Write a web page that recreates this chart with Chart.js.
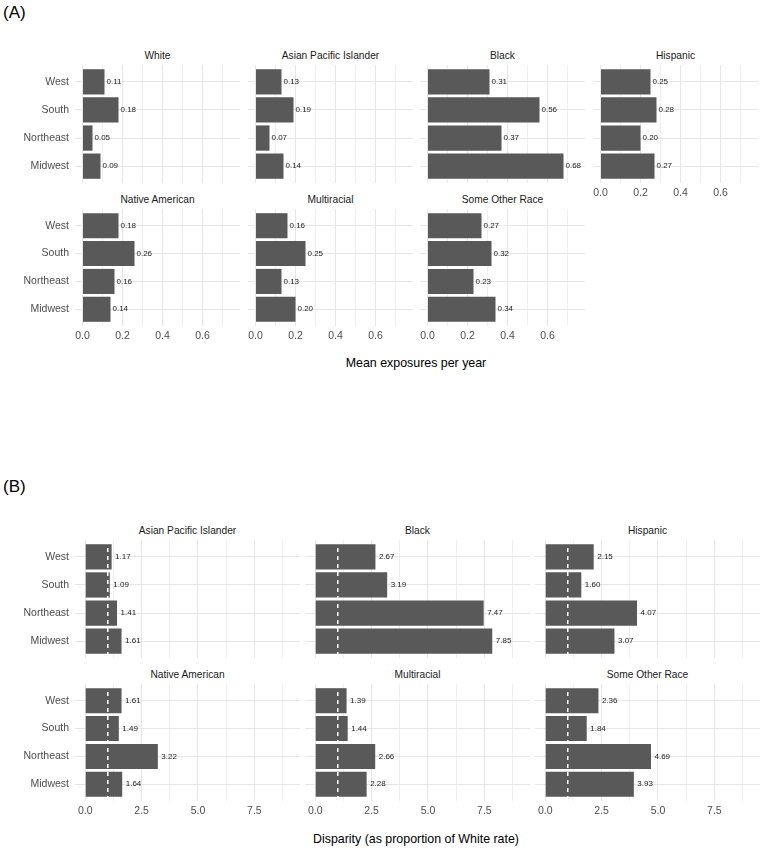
<!DOCTYPE html>
<html>
<head>
<meta charset="utf-8">
<script src="https://cdn.jsdelivr.net/npm/chart.js@4"></script>
<style>
  body { margin: 0; background: #fff; }
  #page { position: relative; width: 762px; height: 849px; background: #fff; font-family: "Liberation Sans", Arial, sans-serif; }
  #page canvas { position: absolute; }
  .txt { position: absolute; white-space: nowrap; transform: translate(-50%, -50%); color: #1a1a1a; }
  .panel { position: absolute; font-size: 17px; color: #000; }
  .strip { font-size: 10.2px; }
  .axis-title { font-size: 12.4px; color: #000; }
</style>
</head>
<body>
<div id="page"></div>
<script>
// regions, top to bottom in every facet
const regions = ['West', 'South', 'Northeast', 'Midwest'];

// (A) mean exposures per year
const exposureGroups = ['White', 'Asian Pacific Islander', 'Black', 'Hispanic', 'Native American', 'Multiracial', 'Some Other Race'];
const exposureWhite = [0.11, 0.18, 0.05, 0.09];
const exposureAsian = [0.13, 0.19, 0.07, 0.14];
const exposureBlack = [0.31, 0.56, 0.37, 0.68];
const exposureHispanic = [0.25, 0.28, 0.20, 0.27];
const exposureNative = [0.18, 0.26, 0.16, 0.14];
const exposureMulti = [0.16, 0.25, 0.13, 0.20];
const exposureOther = [0.27, 0.32, 0.23, 0.34];
const exposureTicks = [0, 0.2, 0.4, 0.6];
const exposureMinorTicks = [0.1, 0.3, 0.5, 0.7];

// (B) disparity as proportion of White rate
const disparityGroups = ['Asian Pacific Islander', 'Black', 'Hispanic', 'Native American', 'Multiracial', 'Some Other Race'];
const disparityAsian = [1.17, 1.09, 1.41, 1.61];
const disparityBlack = [2.67, 3.19, 7.47, 7.85];
const disparityHispanic = [2.15, 1.60, 4.07, 3.07];
const disparityNative = [1.61, 1.49, 3.22, 1.64];
const disparityMulti = [1.39, 1.44, 2.66, 2.28];
const disparityOther = [2.36, 1.84, 4.69, 3.93];
const disparityTicks = [0, 2.5, 5, 7.5];
const disparityMinorTicks = [1.25, 3.75, 6.25, 8.75];
const whiteRate = 1;

const page = document.getElementById('page');
const FONT = '"Liberation Sans", Arial, sans-serif';

function addText(text, x, y, cls) {
  const d = document.createElement('div');
  d.className = 'txt ' + cls;
  d.textContent = text;
  d.style.left = x + 'px';
  d.style.top = y + 'px';
  page.appendChild(d);
}

function facet(f) {
  const yw = f.showY ? 75 : 0;
  const xh = f.showX ? 20 : 0;
  const canvas = document.createElement('canvas');
  canvas.width = yw + f.width;
  canvas.height = f.height + xh;
  canvas.style.left = (f.left - yw) + 'px';
  canvas.style.top = f.top + 'px';
  page.appendChild(canvas);

  addText(f.title, f.left + f.width / 2, f.top - 10, 'strip');

  const allTicks = f.major.concat(f.minor).sort((a, b) => a - b);

  const labelPlugin = {
    id: 'facetMarks',
    afterDatasetsDraw(chart) {
      const ctx = chart.ctx;
      const area = chart.chartArea;
      ctx.save();
      if (f.refLine !== undefined) {
        const px = chart.scales.x.getPixelForValue(f.refLine);
        ctx.strokeStyle = '#ffffff';
        ctx.lineWidth = 1.5;
        ctx.setLineDash([4, 4]);
        ctx.beginPath();
        ctx.moveTo(px, area.top);
        ctx.lineTo(px, area.bottom);
        ctx.stroke();
        ctx.setLineDash([]);
      }
      ctx.fillStyle = '#1a1a1a';
      ctx.font = '8px ' + FONT;
      ctx.textAlign = 'left';
      ctx.textBaseline = 'middle';
      chart.getDatasetMeta(0).data.forEach((bar, i) => {
        ctx.fillText(f.values[i].toFixed(2), bar.x + f.gap, bar.y);
      });
      ctx.restore();
    }
  };

  new Chart(canvas, {
    type: 'bar',
    data: {
      datasets: [{
        data: f.values.map((v, i) => ({ x: v, y: i })),
        backgroundColor: '#595959',
        borderWidth: 0,
        barPercentage: 0.9,
        categoryPercentage: 1
      }]
    },
    options: {
      indexAxis: 'y',
      responsive: false,
      animation: false,
      devicePixelRatio: 1,
      layout: { padding: 0 },
      plugins: { legend: { display: false }, tooltip: { enabled: false } },
      scales: {
        x: {
          type: 'linear',
          min: f.xMin,
          max: f.xMax,
          border: { display: false },
          grid: {
            drawTicks: false,
            lineWidth: 1,
            color: ctx => (ctx.tick && f.major.includes(ctx.tick.value)) ? '#e6e6e6' : '#efefef'
          },
          ticks: {
            display: f.showX,
            padding: 4,
            color: '#4d4d4d',
            font: { family: FONT, size: 10.5 },
            autoSkip: false,
            maxRotation: 0,
            callback: v => f.major.includes(v) ? v.toFixed(1) : ''
          },
          afterBuildTicks: s => { s.ticks = allTicks.map(v => ({ value: v })); },
          afterFit: s => { s.height = xh; s.paddingLeft = 0; s.paddingRight = 0; }
        },
        y: {
          type: 'linear',
          reverse: true,
          offset: false,
          min: -0.6,
          max: 3.6,
          border: { display: false },
          grid: { drawTicks: false, offset: false, lineWidth: 1, color: '#e6e6e6' },
          ticks: {
            display: f.showY,
            padding: 6,
            color: '#4d4d4d',
            font: { family: FONT, size: 10.5 },
            autoSkip: false,
            callback: v => regions[v]
          },
          afterBuildTicks: s => { s.ticks = regions.map((_, i) => ({ value: i })); },
          afterFit: s => { s.width = yw; s.paddingTop = 0; s.paddingBottom = 0; }
        }
      }
    },
    plugins: [labelPlugin]
  });
}

// ---- panel A ----
const exposureSeries = [exposureWhite, exposureAsian, exposureBlack, exposureHispanic, exposureNative, exposureMulti, exposureOther];
const aLefts = [75, 248, 420, 593];
const aTops = [65, 209];
const aHeights = [118, 117];
exposureSeries.forEach((vals, k) => {
  const col = k % 4, row = Math.floor(k / 4);
  facet({
    title: exposureGroups[k], values: vals,
    left: aLefts[col], top: aTops[row], width: 165, height: aHeights[row],
    showY: col === 0, showX: row === 1 || k === 3,
    xMin: -0.0375, xMax: 0.7875,
    major: exposureTicks, minor: exposureMinorTicks, gap: 2
  });
});

// ---- panel B ----
const disparitySeries = [disparityAsian, disparityBlack, disparityHispanic, disparityNative, disparityMulti, disparityOther];
const bLefts = [75, 305, 535];
const bTops = [540, 684];
const bHeights = [118, 117];
disparitySeries.forEach((vals, k) => {
  const col = k % 3, row = Math.floor(k / 3);
  facet({
    title: disparityGroups[k], values: vals,
    left: bLefts[col], top: bTops[row], width: 225, height: bHeights[row],
    showY: col === 0, showX: row === 1,
    xMin: -0.4535, xMax: 9.5235,
    major: disparityTicks, minor: disparityMinorTicks, gap: 3.5,
    refLine: whiteRate
  });
});

// panel labels and axis titles
const la = document.createElement('div');
la.className = 'panel'; la.textContent = '(A)';
la.style.left = '3px'; la.style.top = '3px';
page.appendChild(la);
const lb = document.createElement('div');
lb.className = 'panel'; lb.textContent = '(B)';
lb.style.left = '3px'; lb.style.top = '477px';
page.appendChild(lb);

addText('Mean exposures per year', 416, 363, 'axis-title');
addText('Disparity (as proportion of White rate)', 416, 839, 'axis-title');
</script>
</body>
</html>
